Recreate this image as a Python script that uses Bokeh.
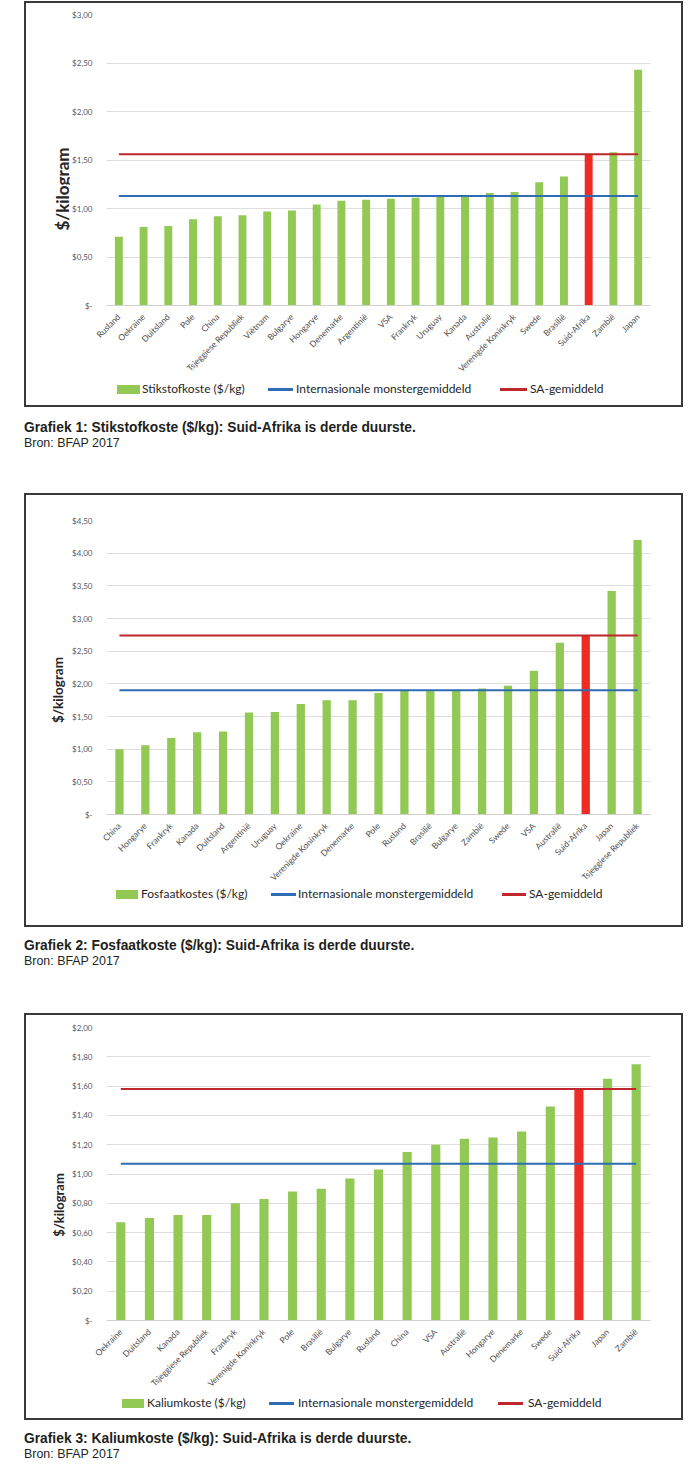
import math
from bokeh.plotting import figure
from bokeh.models import (FactorRange, Range1d, FixedTicker, Div, Spacer, ColumnDataSource)
from bokeh.layouts import column, row
from bokeh.embed import file_html
from bokeh.resources import INLINE

# ---------------- data ----------------
n_countries = ["Rusland", "Oekraine", "Duitsland", "Pole", "China", "Tsjeggiese Republiek",
               "Viëtnam", "Bulgarye", "Hongarye", "Denemarke", "Argentinië", "VSA", "Frankryk",
               "Uruguay", "Kanada", "Australië", "Verenigde Koninkryk", "Swede", "Brasilië",
               "Suid-Afrika", "Zambië", "Japan"]
n_costs = [0.71, 0.81, 0.82, 0.89, 0.92, 0.93, 0.97, 0.98, 1.04, 1.08, 1.09, 1.10, 1.11,
           1.12, 1.13, 1.16, 1.17, 1.27, 1.33, 1.56, 1.58, 2.43]
n_int_avg = 1.13
n_sa_avg = 1.56
n_ticks = [0, 0.5, 1.0, 1.5, 2.0, 2.5, 3.0]
n_tick_labels = ["$-", "$0,50", "$1,00", "$1,50", "$2,00", "$2,50", "$3,00"]

p_countries = ["China", "Hongarye", "Frankryk", "Kanada", "Duitsland", "Argentinië", "Uruguay",
               "Oekraine", "Verenigde Koninkryk", "Denemarke", "Pole", "Rusland", "Brasilië",
               "Bulgarye", "Zambië", "Swede", "VSA", "Australië", "Suid-Afrika", "Japan",
               "Tsjeggiese Republiek"]
p_costs = [1.00, 1.06, 1.17, 1.26, 1.27, 1.56, 1.57, 1.69, 1.75, 1.75, 1.86, 1.90, 1.90,
           1.90, 1.93, 1.97, 2.20, 2.63, 2.74, 3.42, 4.20]
p_int_avg = 1.90
p_sa_avg = 2.74
p_ticks = [0, 0.5, 1.0, 1.5, 2.0, 2.5, 3.0, 3.5, 4.0, 4.5]
p_tick_labels = ["$-", "$0,50", "$1,00", "$1,50", "$2,00", "$2,50", "$3,00", "$3,50",
                 "$4,00", "$4,50"]

k_countries = ["Oekraine", "Duitsland", "Kanada", "Tsjeggiese Republiek", "Frankryk",
               "Verenigde Koninkryk", "Pole", "Brasilië", "Bulgarye", "Rusland", "China", "VSA",
               "Australië", "Hongarye", "Denemarke", "Swede", "Suid-Afrika", "Japan", "Zambië"]
k_costs = [0.67, 0.70, 0.72, 0.72, 0.80, 0.83, 0.88, 0.90, 0.97, 1.03, 1.15, 1.20, 1.24,
           1.25, 1.29, 1.46, 1.58, 1.65, 1.75]
k_int_avg = 1.07
k_sa_avg = 1.58
k_ticks = [0, 0.2, 0.4, 0.6, 0.8, 1.0, 1.2, 1.4, 1.6, 1.8, 2.0]
k_tick_labels = ["$-", "$0,20", "$0,40", "$0,60", "$0,80", "$1,00", "$1,20", "$1,40",
                 "$1,60", "$1,80", "$2,00"]

sa_name = "Suid-Afrika"
bar_labels = ["Stikstofkoste ($/kg)", "Fosfaatkostes ($/kg)", "Kaliumkoste ($/kg)"]
legend_int = "Internasionale monstergemiddeld"
legend_sa = "SA-gemiddeld"
y_title = "$/kilogram"
src_txt = "Bron: BFAP 2017"
captions = ["Grafiek 1: Stikstofkoste ($/kg): Suid-Afrika is derde duurste.",
            "Grafiek 2: Fosfaatkoste ($/kg): Suid-Afrika is derde duurste.",
            "Grafiek 3: Kaliumkoste ($/kg): Suid-Afrika is derde duurste."]

# ---------------- style ----------------
GREEN = "#92C955"
RED_BAR = "#EE2B24"
RED_LINE = "#C0272D"
BLUE = "#2E6DB4"
FONT = "Lato"
CAP_FONT = "'Liberation Sans',Arial,sans-serif"
TITLE_W = 43
INNER_W = 655


def make_fig(cats, vals, int_avg, sa_avg, ticks, tick_labels, fig_h, top, frame_h):
    p = figure(x_range=FactorRange(*cats), y_range=Range1d(0, ticks[-1]),
               width=INNER_W - TITLE_W, height=fig_h,
               min_border_left=36, min_border_right=31,
               min_border_top=top, min_border_bottom=fig_h - top - frame_h,
               output_backend="svg", toolbar_location=None,
               background_fill_color="white", border_fill_color="white",
               outline_line_color=None, margin=0)
    colors = [RED_BAR if c == sa_name else GREEN for c in cats]
    src = ColumnDataSource(dict(cat=cats, val=vals, color=colors))
    p.vbar(x="cat", top="val", width=0.32, source=src, fill_color="color", line_color=None)
    p.line(x=cats, y=[int_avg] * len(cats), line_color=BLUE, line_width=2)
    p.line(x=cats, y=[sa_avg] * len(cats), line_color=RED_LINE, line_width=2)

    p.xgrid.grid_line_color = None
    p.ygrid.grid_line_color = "#dedede"
    p.ygrid.grid_line_width = 1

    p.yaxis.ticker = FixedTicker(ticks=ticks)
    p.yaxis.major_label_overrides = {t: l for t, l in zip(ticks, tick_labels)}
    p.yaxis.axis_line_color = None
    p.yaxis.major_tick_line_color = None
    p.yaxis.minor_tick_line_color = None
    p.yaxis.major_label_standoff = 8
    p.yaxis.major_label_text_font = FONT
    p.yaxis.major_label_text_font_size = "8px"
    p.yaxis.major_label_text_color = "#595959"

    p.xaxis.axis_line_color = "#d0d0d0"
    p.xaxis.major_tick_line_color = None
    p.xaxis.minor_tick_line_color = None
    p.xaxis.major_label_orientation = math.pi / 4
    p.xaxis.major_label_standoff = 4
    p.xaxis.major_label_text_font = FONT
    p.xaxis.major_label_text_font_size = "8.5px"
    p.xaxis.major_label_text_color = "#4d4d4d"
    return p


def title_div(fig_h, cx, cy, size):
    html = (f'<div style="position:relative;width:{TITLE_W}px;height:{fig_h}px">'
            f'<div style="position:absolute;left:{cx}px;top:{cy}px;'
            f'transform:translate(-50%,-50%) rotate(-90deg);white-space:nowrap;'
            f'font-family:{FONT};font-weight:bold;font-size:{size}px;line-height:{size + 2}px;'
            f'color:#262626">{y_title}</div></div>')
    return Div(text=html, width=TITLE_W, height=fig_h, margin=0)


def legend_div(h, c, bar_label, pos):
    (g1, w1, t1), (g2, w2, t2), (g3, w3, t3) = pos
    txt = (f'position:absolute;top:{c - 7}px;font-family:{FONT};font-size:12px;'
           f'line-height:14px;white-space:nowrap;color:#262626')
    html = (f'<div style="position:relative;width:{INNER_W}px;height:{h}px">'
            f'<span style="position:absolute;left:{g1}px;top:{c - 4.5}px;width:{w1}px;height:9px;background:{GREEN}"></span>'
            f'<span style="{txt};left:{t1}px">{bar_label}</span>'
            f'<span style="position:absolute;left:{g2}px;top:{c - 1.5}px;width:{w2}px;height:3px;background:{BLUE}"></span>'
            f'<span style="{txt};left:{t2}px">{legend_int}</span>'
            f'<span style="position:absolute;left:{g3}px;top:{c - 1.5}px;width:{w3}px;height:3px;background:{RED_LINE}"></span>'
            f'<span style="{txt};left:{t3}px">{legend_sa}</span></div>')
    return Div(text=html, width=INNER_W, height=h, margin=0)


def chart_box(fig, tdiv, ldiv):
    return column(row(tdiv, fig, spacing=0, margin=0), ldiv, spacing=0, margin=0,
                  styles={"border": "2px solid #3a3a3a"})


def caption(title, source, height, pad):
    html = (f'<div style="padding-top:{pad}px;margin:0;font-family:{CAP_FONT};color:#231f20;'
            f'transform:scaleX(0.92);transform-origin:0 0;">'
            f'<div style="font-weight:bold;font-size:15px;line-height:16px;white-space:nowrap">{title}</div>'
            f'<div style="font-size:13.5px;line-height:16px;white-space:nowrap">{source}</div></div>')
    return Div(text=html, width=659, height=height, margin=0)


f1 = make_fig(n_countries, n_costs, n_int_avg, n_sa_avg, n_ticks, n_tick_labels, 377, 11, 294)
f2 = make_fig(p_countries, p_costs, p_int_avg, p_sa_avg, p_ticks, p_tick_labels, 394, 25, 295)
f3 = make_fig(k_countries, k_costs, k_int_avg, k_sa_avg, k_ticks, k_tick_labels, 380, 12, 295)

box1 = chart_box(f1, title_div(377, 36, 186, 17),
                 legend_div(25, 9, bar_labels[0], [(91, 23, 116), (242, 25, 270), (474, 27, 504)]))
box2 = chart_box(f2, title_div(394, 33, 195, 13.5),
                 legend_div(36, 5, bar_labels[1], [(90, 22, 115), (245, 25, 272), (476, 24, 503)]))
box3 = chart_box(f3, title_div(380, 33, 190, 13),
                 legend_div(23, 8, bar_labels[2], [(96, 22, 121), (243, 25, 272), (472, 25, 502)]))

cap1 = caption(captions[0], src_txt, 86, 12)
cap2 = caption(captions[1], src_txt, 86, 10)
cap3 = caption(captions[2], src_txt, 48, 10)

col = column(Spacer(height=1, margin=0), box1, cap1, box2, cap2, box3, cap3,
             spacing=0, margin=0)
layout = row(Spacer(width=24, margin=0), col, spacing=0, margin=0)
open("out.html", "w").write(file_html(layout, INLINE))
